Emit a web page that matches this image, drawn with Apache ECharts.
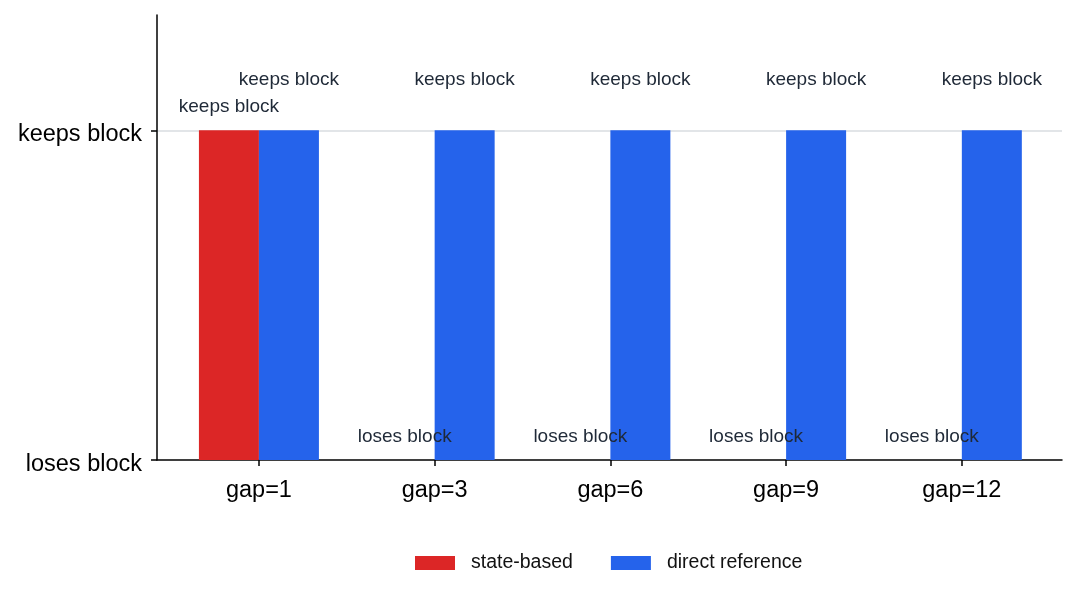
<!DOCTYPE html>
<html>
<head>
<meta charset="utf-8">
<script src="https://cdn.jsdelivr.net/npm/echarts@6/dist/echarts.min.js"></script>
<style>
  html, body { margin: 0; padding: 0; background: #fff; }
  #main { width: 1079px; height: 598px; }
</style>
</head>
<body>
<div id="main"></div>
<script>
// data
var categories = ['gap=1', 'gap=3', 'gap=6', 'gap=9', 'gap=12'];
var stateBased = [1, 0, 0, 0, 0];
var directRef = [1, 1, 1, 1, 1];
var yLabels = ['loses block', 'keeps block'];

var font = 'Liberation Sans, Arial, sans-serif';

function pairs(arr) {
  var out = [];
  for (var i = 0; i < arr.length; i++) {
    out.push([i, arr[i]]);
  }
  return out;
}

var chart = echarts.init(document.getElementById('main'), null, { renderer: 'canvas' });

var option = {
  animation: false,
  textStyle: { fontFamily: font },
  grid: { left: 157, right: 17, top: 15, bottom: 138 },
  legend: {
    left: 415,
    top: 553,
    padding: 0,
    icon: 'rect',
    itemWidth: 40,
    itemHeight: 14,
    itemGap: 38,
    textStyle: { fontSize: 19.5, color: '#111', fontFamily: font, padding: [0, 0, 0, 11] },
    data: ['state-based', 'direct reference']
  },
  xAxis: {
    type: 'value',
    min: -0.58,
    max: 4.57,
    axisLine: { show: true, onZero: false, lineStyle: { color: '#000', width: 1.5 } },
    axisTick: { show: true, customValues: [0, 1, 2, 3, 4], length: 6, lineStyle: { color: '#000', width: 1.5 } },
    axisLabel: {
      customValues: [0, 1, 2, 3, 4],
      formatter: function (v) { return categories[Math.round(v)]; },
      fontSize: 23.5, color: '#000', margin: 19, fontFamily: font
    },
    splitLine: { show: false }
  },
  yAxis: {
    type: 'value',
    min: 0,
    max: 1.35,
    axisLine: { show: true, onZero: false, lineStyle: { color: '#000', width: 1.5 } },
    axisTick: { show: true, customValues: [0, 1], length: 6, lineStyle: { color: '#000', width: 1.5 } },
    axisLabel: {
      customValues: [0, 1],
      formatter: function (v) { return '{t|' + yLabels[Math.round(v)] + '}'; },
      margin: 15,
      rich: {
        t: { fontSize: 23.5, color: '#000', fontFamily: font, padding: [9, 0, 0, 0] }
      }
    },
    splitLine: { show: false }
  },
  series: [
    {
      name: 'state-based',
      type: 'bar',
      barWidth: 60,
      barGap: '0%',
      itemStyle: { color: '#dc2626' },
      data: pairs(stateBased),
      label: {
        show: true,
        position: 'top',
        distance: 14,
        fontSize: 19,
        color: '#1f2937',
        fontFamily: font,
        formatter: function (p) { return yLabels[p.value[1]]; }
      },
      markLine: {
        silent: true,
        symbol: 'none',
        label: { show: false },
        lineStyle: { color: '#d9dce1', width: 1.5, type: 'solid' },
        data: [{ yAxis: 1 }],
        z: 0
      },
      z: 2
    },
    {
      name: 'direct reference',
      type: 'bar',
      barWidth: 60,
      barGap: '0%',
      itemStyle: { color: '#2563eb' },
      data: pairs(directRef),
      label: {
        show: true,
        position: 'top',
        distance: 41,
        fontSize: 19,
        color: '#1f2937',
        fontFamily: font,
        formatter: function (p) { return yLabels[p.value[1]]; }
      },
      z: 2
    }
  ]
};

chart.setOption(option);
</script>
</body>
</html>
